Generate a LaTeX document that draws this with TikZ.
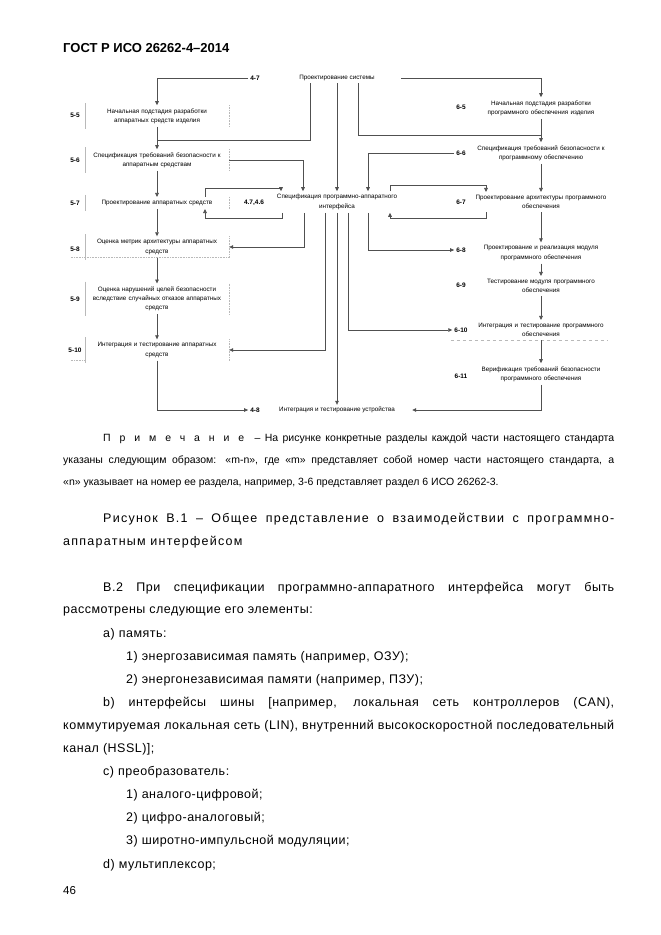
\documentclass[tikz,border=0pt]{standalone}
\usepackage{fontspec}
\setmainfont{Liberation Sans}
\newfontfamily\bodyfont[LetterSpace=4]{Liberation Sans}
\newfontfamily\notebody{Liberation Sans}
\newfontfamily\capfont[LetterSpace=10]{Liberation Sans}
\newfontfamily\widefont[LetterSpace=85]{Liberation Sans}
\usetikzlibrary{positioning,arrows.meta}
\definecolor{LineGray}{RGB}{80,80,80}
\definecolor{FaintGray}{RGB}{185,185,185}

\newcommand{\diafont}{\fontsize{6.3}{9.3}\selectfont}
\newcommand{\txtfont}{\bodyfont\fontsize{12.5}{15}\selectfont}
\newcommand{\notefont}{\notebody\fontsize{10.5}{14}\selectfont}
\newcommand{\jline}[2]{\makebox[#1pt][s]{#2}}

\begin{document}
\begin{tikzpicture}[
    x=1pt, y=-1pt,
    font=\diafont,
    lbox/.style={
        text width=138pt,
        minimum width=140pt,
        align=center,
        inner sep=3pt
    },
    rbox/.style={
        text width=172pt,
        minimum width=176pt,
        align=center,
        inner sep=3pt
    },
    tag/.style={
        inner sep=2pt,
        font=\fontsize{6.5}{8}\selectfont\bfseries
    },
    arr/.style={
        draw=LineGray,
        line width=0.7pt,
        -{Triangle[length=4pt,width=3.6pt]}
    },
    ln/.style={
        draw=LineGray,
        line width=0.7pt
    },
    faint/.style={
        draw=FaintGray,
        line width=0.6pt
    },
    txt/.style={
        anchor=base west,
        inner sep=0pt,
        font=\txtfont
    },
    note/.style={
        anchor=base west,
        inner sep=0pt,
        font=\notefont
    }
]
\useasboundingbox[fill=white] (0,0) rectangle (661,935);

% header
\node[anchor=base west, inner sep=0pt, font=\fontsize{13}{15}\selectfont\bfseries] (hdr) at (63,52) {ГОСТ Р ИСО 26262-4–2014};

% top and bottom
\node[tag] (t47) at (255,78) {4-7};
\node[minimum width=128pt, inner sep=2pt] (sys) at (337,78) {Проектирование системы};
\node[tag] (t48) at (255,410) {4-8};
\node[minimum width=150pt, inner sep=2pt] (dev) at (337,410) {Интеграция и тестирование устройства};

% interface
\node[text width=126pt, minimum width=128pt, align=center, inner sep=3pt] (hsi) at (337,202) {Спецификация программно-аппаратного\\интерфейса};
\node[tag] (t4746) at (254,203) {4.7,4.6};

% hardware column
\node[tag] (t55) at (75,115) {5-5};
\node[lbox] (n55) at (157,116) {Начальная подстадия разработки\\аппаратных средств изделия};
\node[tag] (t56) at (75,160) {5-6};
\node[lbox] (n56) at (157,160) {Спецификация требований безопасности к\\аппаратным средствам};
\node[tag] (t57) at (75,203) {5-7};
\node[lbox] (n57) at (157,203) {Проектирование аппаратных средств};
\node[tag] (t58) at (75,249) {5-8};
\node[lbox] (n58) at (157,247) {Оценка метрик архитектуры аппаратных\\средств};
\node[tag] (t59) at (75,299) {5-9};
\node[lbox] (n59) at (157,299) {Оценка нарушений целей безопасности\\вследствие случайных отказов аппаратных\\средств};
\node[tag] (t510) at (75,350) {5-10};
\node[lbox] (n510) at (157,350) {Интеграция и тестирование аппаратных\\средств};

% software column
\node[tag] (u65) at (461,107) {6-5};
\node[rbox] (s65) at (541,108) {Начальная подстадия разработки\\программного обеспечения изделия};
\node[tag] (u66) at (461,153) {6-6};
\node[rbox] (s66) at (541,153) {Спецификация требований безопасности к\\программному обеспечению};
\node[tag] (u67) at (461,202) {6-7};
\node[rbox] (s67) at (541,202) {Проектирование архитектуры программного\\обеспечения};
\node[tag] (u68) at (461,250) {6-8};
\node[rbox] (s68) at (541,253) {Проектирование и реализация модуля\\программного обеспечения};
\node[tag] (u69) at (461,285) {6-9};
\node[rbox] (s69) at (541,286) {Тестирование модуля программного\\обеспечения};
\node[tag] (u610) at (461,330) {6-10};
\node[rbox] (s610) at (541,330) {Интеграция и тестирование программного\\обеспечения};
\node[tag] (u611) at (461,376) {6-11};
\node[rbox] (s611) at (541,374) {Верификация требований безопасности\\программного обеспечения};

% faint box edges
\foreach \n in {n55,n56,n57,n58,n59,n510}{
    \draw[faint] ([yshift=2pt]\n.north west) -- ([yshift=-2pt]\n.south west);
    \draw[faint, densely dotted] (\n.north east) -- (\n.south east);
}
\draw[faint, densely dotted] ([xshift=-14pt]n58.south west) -- (n58.south east);
\draw[faint, densely dotted] ([xshift=-14pt]n510.south west) -- (n510.south west);
\draw[faint, dashed] ([xshift=-1pt]s610.south west) -- ([xshift=-22pt]s610.south east);

% joints
\coordinate (j56) at (157,140);
\coordinate (j66) at (541,135);

% system level
\draw[arr] (t47.west) -| (n55.north);
\draw[arr] (sys.east) -| (s65.north);
\draw[ln] ([xshift=-27pt]sys.south) |- (j56);
\draw[ln] ([xshift=21pt]sys.south) |- (j66);
\draw[arr] (sys.south) -- (hsi.north);

% hardware chain
\draw[arr] (n55) -- (n56);
\draw[arr] (n56) -- (n57);
\draw[arr] (n57) -- (n58);
\draw[arr] (n58) -- (n59);
\draw[arr] (n59) -- (n510);
\draw[arr] (n510.south) |- (t48.west);

% software chain
\draw[arr] (s65) -- (s66);
\draw[arr] (s66) -- (s67);
\draw[arr] (s67) -- (s68);
\draw[arr] (s68) -- (s69);
\draw[arr] (s69) -- (s610);
\draw[arr] (s610) -- (s611);
\draw[arr] (s611.south) |- (dev.east);

% into the interface
\draw[arr] (n56.east) -| ([xshift=-34pt]hsi.north);
\draw[arr] (u66.west) -| ([xshift=31pt]hsi.north);
\draw[arr] ([xshift=48pt]n57.north) -- ++(0,-9) -| ([xshift=-56pt]hsi.north);
\draw[arr] ([xshift=-55pt]hsi.south) -- ++(0,6) -| ([xshift=48pt]n57.south);
\draw[arr] ([xshift=53pt]hsi.north) -- ++(0,-6) -| ([xshift=-55pt]s67.north);
\draw[arr] ([xshift=-55pt]s67.south) -- ++(0,6) -| ([xshift=53pt]hsi.south);

% out of the interface
\draw[arr] ([xshift=-33pt]hsi.south) |- (n58.east);
\draw[arr] ([xshift=-12pt]hsi.south) |- (n510.east);
\draw[arr] (hsi.south) -- (dev.north);
\draw[arr] ([xshift=11pt]hsi.south) |- (u610.west);
\draw[arr] ([xshift=31pt]hsi.south) |- (u68.west);

% note
\node[note] (nt1) at (103,441) {\jline{511}{{\widefont Примечание}\hspace{6pt} – На рисунке конкретные разделы каждой части настоящего стандарта}};
\node[note] (nt2) at (63,463) {\jline{551}{указаны следующим образом: «m-n», где «m» представляет собой номер части настоящего стандарта, а}};
\node[note] (nt3) at (63,485) {«n» указывает на номер ее раздела, например, 3-6 представляет раздел 6 ИСО 26262-3.};

% caption
\node[txt, font=\capfont\fontsize{12.5}{15}\selectfont] (cp1) at (103,522) {\jline{511}{Рисунок В.1 – Общее представление о взаимодействии с программно-}};
\node[txt, font=\capfont\fontsize{12.5}{15}\selectfont] (cp2) at (63,545) {аппаратным интерфейсом};

% text
\node[txt] (p1) at (103,591) {\jline{511}{В.2 При спецификации программно-аппаратного интерфейса могут быть}};
\node[txt] (p2) at (63,613) {рассмотрены следующие его элементы:};
\node[txt] (p3) at (103,637) {а) память:};
\node[txt] (p4) at (126,660) {1) энергозависимая память (например, ОЗУ);};
\node[txt] (p5) at (126,683) {2) энергонезависимая памяти (например, ПЗУ);};
\node[txt] (p6) at (103,706) {\jline{511}{b) интерфейсы шины [например, локальная сеть контроллеров (CAN),}};
\node[txt] (p7) at (63,729) {\jline{551}{коммутируемая локальная сеть (LIN), внутренний высокоскоростной последовательный}};
\node[txt] (p8) at (63,752) {канал (HSSL)];};
\node[txt] (p9) at (103,775) {c) преобразователь:};
\node[txt] (p10) at (126,798) {1) аналого-цифровой;};
\node[txt] (p11) at (126,821) {2) цифро-аналоговый;};
\node[txt] (p12) at (126,844) {3) широтно-импульсной модуляции;};
\node[txt] (p13) at (103,868) {d) мультиплексор;};

% page number
\node[anchor=base west, inner sep=0pt, font=\fontsize{11.5}{14}\selectfont] (pg) at (63,894) {46};

\end{tikzpicture}
\end{document}
